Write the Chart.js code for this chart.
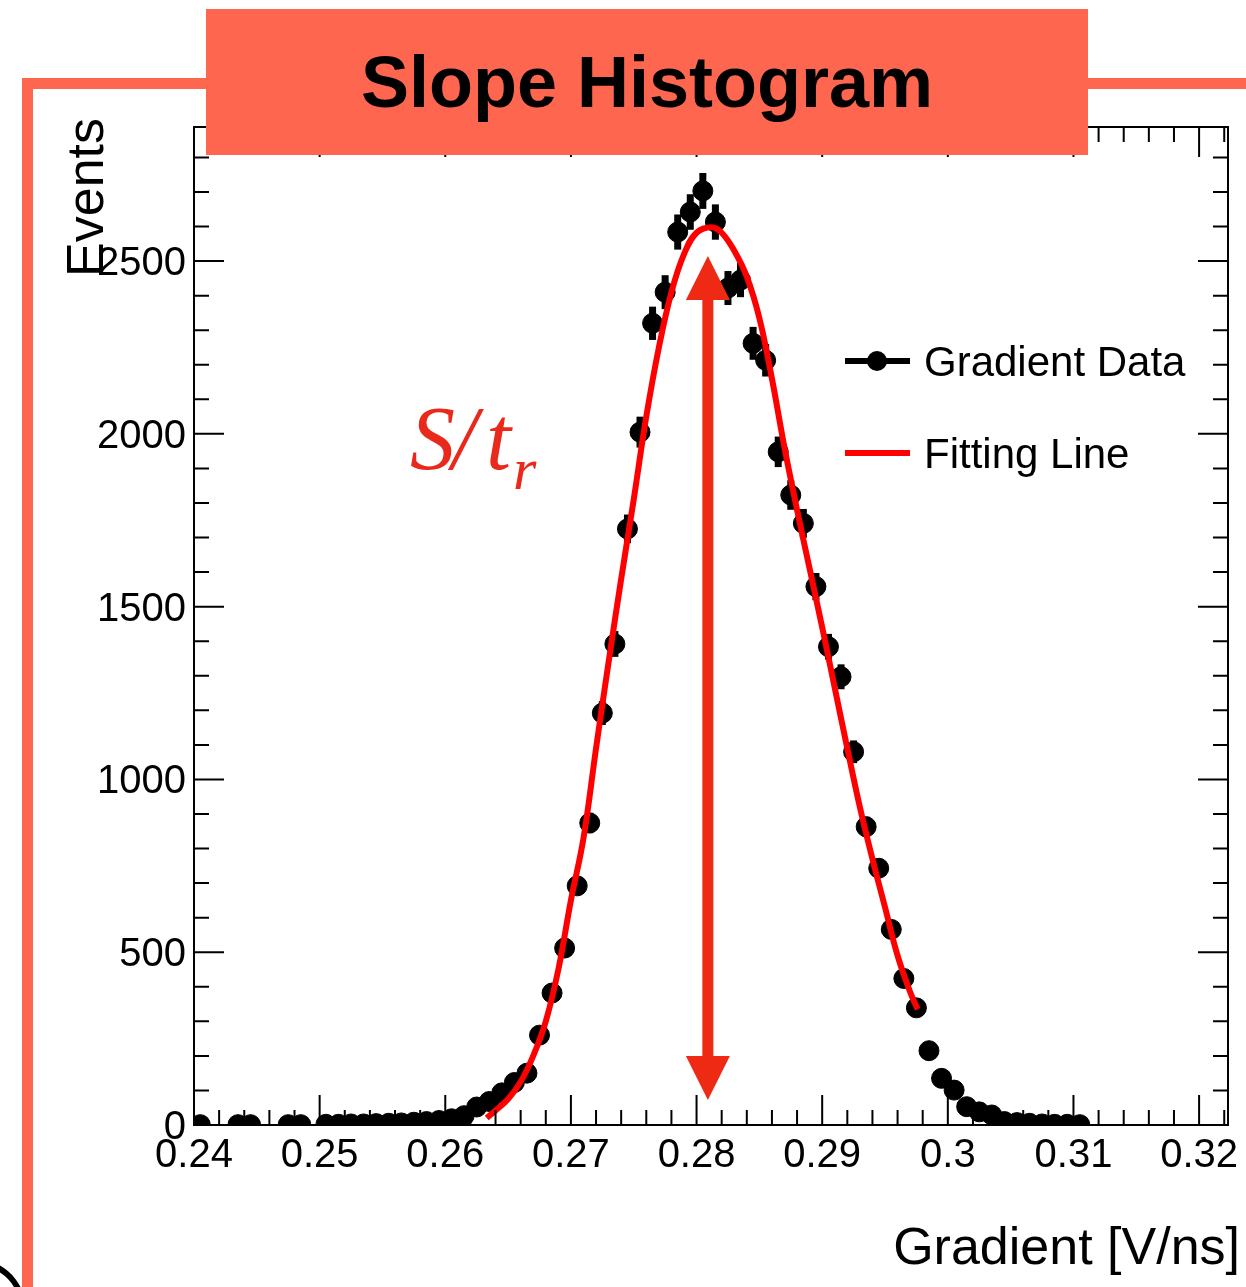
<!DOCTYPE html>
<html>
<head>
<meta charset="utf-8">
<script src="https://cdn.jsdelivr.net/npm/chart.js@4.4.1/dist/chart.umd.min.js"></script>
<style>
  body { margin: 0; background: #fff; }
  #wrap { position: relative; width: 1246px; height: 1287px; overflow: hidden; }
  #frame { position: absolute; left: 22px; top: 78px; width: 1400px; height: 1400px;
           border-left: 11px solid #ff6650; border-top: 11px solid #ff6650; box-sizing: border-box; }
  #title { position: absolute; left: 206px; top: 9px; width: 882px; height: 146px; background: #ff6650;
           font: bold 72px "Liberation Sans", Arial, sans-serif; color: #000;
           text-align: center; line-height: 146px; }
  canvas { position: absolute; left: 0; top: 0; }
</style>
</head>
<body>
<div id="wrap">
  <div id="frame"></div>
  <canvas id="chart" width="1246" height="1287"></canvas>
  <div id="title">Slope Histogram</div>
</div>
<script>
// histogram bins (bin centre, V/ns) and counts
const gradient = [0.2405, 0.2435, 0.2445, 0.2475, 0.2485,
  0.2505, 0.2515, 0.2525, 0.2535, 0.2545, 0.2555, 0.2565, 0.2575, 0.2585, 0.2595,
  0.2605, 0.2615, 0.2625, 0.2635, 0.2645, 0.2655, 0.2665, 0.2675, 0.2685, 0.2695,
  0.2705, 0.2715, 0.2725, 0.2735, 0.2745, 0.2755, 0.2765, 0.2775, 0.2785, 0.2795,
  0.2805, 0.2815, 0.2825, 0.2835, 0.2845, 0.2855, 0.2865, 0.2875, 0.2885, 0.2895,
  0.2905, 0.2915, 0.2925, 0.2935, 0.2945, 0.2955, 0.2965, 0.2975, 0.2985, 0.2995,
  0.3005, 0.3015, 0.3025, 0.3035, 0.3045, 0.3055, 0.3065, 0.3075, 0.3085, 0.3095, 0.3105];
const events = [1, 1, 1, 1, 1,
  2, 2, 3, 3, 4, 5, 6, 8, 10, 13,
  18, 27, 52, 68, 93, 123, 150, 260, 382, 512,
  692, 874, 1192, 1392, 1725, 2005, 2320, 2410, 2584, 2642,
  2703, 2613, 2422, 2445, 2262, 2213, 1948, 1823, 1741, 1558,
  1384, 1297, 1080, 863, 743, 566, 424, 339, 215, 135,
  101, 53, 38, 29, 10, 7, 5, 3, 2, 2, 1];

// fitted curve
const fitX = [0.2633, 0.2640, 0.2650, 0.2660, 0.2670, 0.2680, 0.2690, 0.2700, 0.2710, 0.2720,
  0.2730, 0.2740, 0.2750, 0.2760, 0.2770, 0.2780, 0.2790, 0.2800, 0.2812, 0.2820,
  0.2830, 0.2840, 0.2850, 0.2860, 0.2870, 0.2880, 0.2890, 0.2900, 0.2910, 0.2920,
  0.2930, 0.2940, 0.2950, 0.2960, 0.2970, 0.2976];
const fitY = [20, 42, 75, 125, 200, 300, 450, 650, 830, 1090,
  1340, 1580, 1810, 2050, 2250, 2410, 2520, 2582, 2598, 2582,
  2530, 2455, 2335, 2160, 1960, 1780, 1610, 1440, 1265, 1090,
  920, 770, 630, 490, 385, 335];

const xTicks = [0.24, 0.25, 0.26, 0.27, 0.28, 0.29, 0.30, 0.31, 0.32];
const xTickLabels = ['0.24', '0.25', '0.26', '0.27', '0.28', '0.29', '0.3', '0.31', '0.32'];
const yTicks = [0, 500, 1000, 1500, 2000, 2500];
const yTickLabels = ['0', '500', '1000', '1500', '2000', '2500'];

const xMin = 0.24, xMax = 0.3223, yMin = 0, yMax = 2888;
const arrowX = 0.2809, arrowBottom = 72, arrowTop = 2515;

const FONT = '"Liberation Sans", Arial, Helvetica, sans-serif';
const SERIF = '"Liberation Serif", "Times New Roman", serif';

const rootStyle = {
  id: 'rootStyle',
  beforeDatasetsDraw(chart) {
    // error bars under the markers
    const { ctx, scales: { x, y } } = chart;
    ctx.save();
    ctx.strokeStyle = '#000';
    ctx.lineWidth = 7;
    gradient.forEach((g, i) => {
      const e = Math.sqrt(events[i]);
      const px = x.getPixelForValue(g);
      ctx.beginPath();
      ctx.moveTo(px, y.getPixelForValue(events[i] - e));
      ctx.lineTo(px, y.getPixelForValue(events[i] + e));
      ctx.stroke();
    });
    ctx.restore();
  },
  afterDraw(chart) {
    const { ctx, chartArea: a, scales: { x, y } } = chart;
    ctx.save();

    // arrow
    const ax = x.getPixelForValue(arrowX);
    const yt = y.getPixelForValue(arrowTop);
    const yb = y.getPixelForValue(arrowBottom);
    const head = 44, half = 22;
    ctx.fillStyle = '#ee2914';
    ctx.fillRect(ax - 5.5, yt + head - 2, 11, (yb - head) - (yt + head) + 4);
    ctx.beginPath();
    ctx.moveTo(ax, yt); ctx.lineTo(ax - half, yt + head); ctx.lineTo(ax + half, yt + head); ctx.closePath();
    ctx.fill();
    ctx.beginPath();
    ctx.moveTo(ax, yb); ctx.lineTo(ax - half, yb - head); ctx.lineTo(ax + half, yb - head); ctx.closePath();
    ctx.fill();

    // S/t_r label
    ctx.fillStyle = '#e8291b';
    ctx.textAlign = 'left';
    ctx.textBaseline = 'alphabetic';
    ctx.font = 'italic 90px ' + SERIF;
    ctx.fillText('S', 410, 469);
    ctx.fillText('/', 452, 469);
    ctx.fillText('t', 486, 469);
    ctx.font = 'italic 60px ' + SERIF;
    ctx.fillText('r', 513, 489);

    // frame
    ctx.strokeStyle = '#000';
    ctx.lineWidth = 2;
    ctx.strokeRect(a.left, a.top, a.right - a.left, a.bottom - a.top);

    // ticks, all four sides, pointing inwards
    ctx.beginPath();
    for (let k = 0; k <= 41; k++) {
      const v = xMin + k * 0.002;
      if (v > xMax) break;
      const px = x.getPixelForValue(v);
      const len = k % 5 === 0 ? 30 : 15;
      ctx.moveTo(px, a.bottom); ctx.lineTo(px, a.bottom - len);
      ctx.moveTo(px, a.top); ctx.lineTo(px, a.top + len);
    }
    for (let k = 0; k <= 28; k++) {
      const v = k * 100;
      const py = y.getPixelForValue(v);
      const len = k % 5 === 0 ? 30 : 15;
      ctx.moveTo(a.left, py); ctx.lineTo(a.left + len, py);
      ctx.moveTo(a.right, py); ctx.lineTo(a.right - len, py);
    }
    ctx.stroke();

    // tick labels
    ctx.fillStyle = '#000';
    ctx.font = '40px ' + FONT;
    ctx.textAlign = 'center';
    xTicks.forEach((v, i) => ctx.fillText(xTickLabels[i], x.getPixelForValue(v), 1167));
    ctx.textAlign = 'right';
    yTicks.forEach((v, i) => ctx.fillText(yTickLabels[i], 186, y.getPixelForValue(v) + 14));

    // axis titles
    ctx.font = '52px ' + FONT;
    ctx.textAlign = 'right';
    ctx.fillText('Gradient [V/ns]', 1240, 1264);
    ctx.save();
    ctx.translate(103, 118);
    ctx.rotate(-Math.PI / 2);
    ctx.fillText('Events', 0, 0);
    ctx.restore();

    // legend
    ctx.lineWidth = 6;
    ctx.strokeStyle = '#000';
    ctx.beginPath(); ctx.moveTo(845, 361); ctx.lineTo(910, 361); ctx.stroke();
    ctx.beginPath(); ctx.arc(877, 361, 10, 0, Math.PI * 2); ctx.fill();
    ctx.strokeStyle = '#ff0000';
    ctx.beginPath(); ctx.moveTo(845, 453); ctx.lineTo(910, 453); ctx.stroke();
    ctx.font = '42px ' + FONT;
    ctx.textAlign = 'left';
    ctx.fillText('Gradient Data', 924, 376);
    ctx.fillText('Fitting Line', 924, 468);

    // bit of a shape clipped at the bottom-left corner
    ctx.strokeStyle = '#000';
    ctx.lineWidth = 6;
    ctx.beginPath();
    ctx.arc(-25, 1310, 48, -1.1, -0.2);
    ctx.stroke();

    ctx.restore();
  }
};

new Chart(document.getElementById('chart'), {
  type: 'scatter',
  data: {
    datasets: [
      {
        label: 'Fitting Line',
        type: 'line',
        data: fitX.map((v, i) => ({ x: v, y: fitY[i] })),
        borderColor: '#ff0000',
        borderWidth: 6,
        pointRadius: 0,
        tension: 0.4,
        fill: false,
        order: 0
      },
      {
        label: 'Gradient Data',
        data: gradient.map((v, i) => ({ x: v, y: events[i] })),
        backgroundColor: '#000',
        borderColor: '#000',
        pointRadius: 10,
        pointHoverRadius: 10,
        order: 1
      }
    ]
  },
  options: {
    responsive: false,
    animation: false,
    layout: { padding: { left: 194, right: 18, top: 127, bottom: 162 } },
    plugins: { legend: { display: false }, tooltip: { enabled: false } },
    scales: {
      x: { type: 'linear', min: xMin, max: xMax, display: false },
      y: { type: 'linear', min: yMin, max: yMax, display: false }
    }
  },
  plugins: [rootStyle]
});
</script>
</body>
</html>
